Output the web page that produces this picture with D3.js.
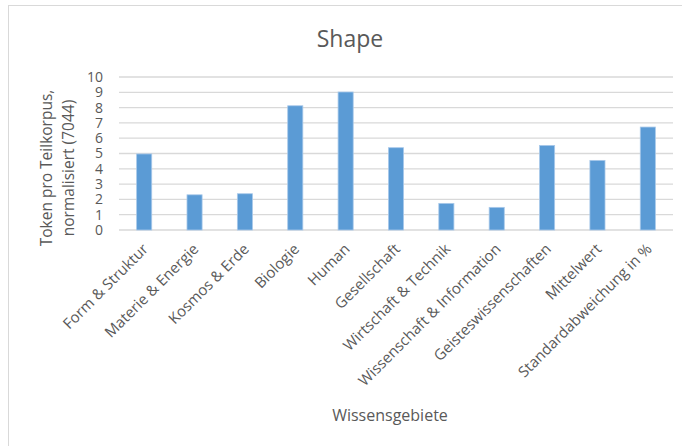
<!DOCTYPE html>
<html><head><meta charset="utf-8">
<script src="https://cdn.jsdelivr.net/npm/d3@7"></script>
<style>body{margin:0;background:#fff;}</style>
</head><body>
<svg id="c" width="682" height="446"></svg>
<script>
const categories = ["Form & Struktur","Materie & Energie","Kosmos & Erde","Biologie","Human","Gesellschaft","Wirtschaft & Technik","Wissenschaft & Information","Geisteswissenschaften","Mittelwert","Standardabweichung in %"];
const values = [4.97, 2.3, 2.37, 8.12, 9.02, 5.38, 1.74, 1.48, 5.53, 4.55, 6.73];
const yTicks = [0,1,2,3,4,5,6,7,8,9,10];
const title = "Shape";
const yTitle = ["Token pro Teilkorpus,", "normalisiert (7044)"];
const xTitle = "Wissensgebiete";

const svg = d3.select("#c");
const font = "'Open Sans',sans-serif";
const grey = "#595959";
svg.append("rect").attr("x",8.5).attr("y",5.5).attr("width",700).attr("height",460)
  .attr("fill","none").attr("stroke","#d9d9d9");

const x = d3.scaleBand().domain(categories).range([119,673]).paddingInner(0.7).paddingOuter(0.35);
const y = d3.scaleLinear().domain([0,10]).range([230,77]);

svg.append("g").selectAll("line").data(yTicks).join("line")
  .attr("x1",119).attr("x2",673).attr("y1",d=>y(d)).attr("y2",d=>y(d))
  .attr("stroke","#d9d9d9").attr("stroke-width",1.3);

svg.append("g").selectAll("rect").data(values).join("rect")
  .attr("x",(d,i)=>x(categories[i])).attr("width",x.bandwidth())
  .attr("y",d=>y(d)).attr("height",d=>y(0)-y(d))
  .attr("fill","#5b9bd5").attr("stroke","#a9c9ea").attr("stroke-width",0.8);

const yAxis = svg.append("g").attr("transform","translate(119,0)")
  .call(d3.axisLeft(y).tickValues(yTicks).tickSize(0).tickPadding(16));
yAxis.select(".domain").remove();
yAxis.selectAll("text").attr("font-family",font).attr("font-size",14).attr("fill",grey);

const xAxis = svg.append("g").attr("transform","translate(0,230)")
  .call(d3.axisBottom(x).tickSize(0).tickPadding(0));
xAxis.select(".domain").remove();
xAxis.selectAll(".tick text").attr("font-family",font).attr("font-size",15).attr("fill",grey)
  .attr("text-anchor","end").attr("dy",0).attr("x",0).attr("y",0)
  .attr("transform","translate(5,20) rotate(-45)");

svg.append("text").attr("x",350).attr("y",47).attr("text-anchor","middle")
  .attr("font-family",font).attr("font-size",23).attr("fill",grey).text(title);

yTitle.forEach((t,i)=>{
  svg.append("text").attr("transform","translate("+(52+i*22)+",168) rotate(-90)")
    .attr("text-anchor","middle").attr("font-family",font)
    .attr("font-size",15.5).attr("fill",grey).text(t);
});

svg.append("text").attr("x",390).attr("y",421).attr("text-anchor","middle")
  .attr("font-family",font).attr("font-size",16).attr("fill",grey).text(xTitle);
</script>
</body></html>
